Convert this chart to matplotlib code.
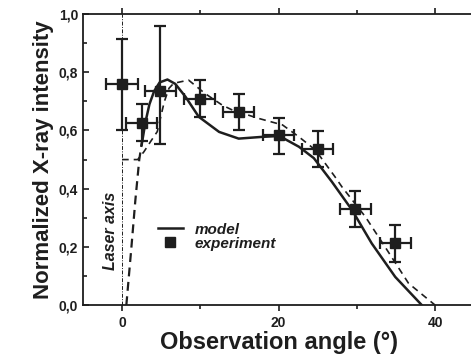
import numpy as np
import matplotlib
matplotlib.use('Agg')
import matplotlib.pyplot as plt
from matplotlib.lines import Line2D
from matplotlib.ticker import MultipleLocator, FuncFormatter

plt.rcParams['font.family'] = ['Liberation Sans', 'DejaVu Sans']

# experiment
exp_x = [0, 2.5, 4.9, 9.9, 14.9, 20.0, 25.0, 29.8, 34.9]
exp_y = [0.758, 0.627, 0.737, 0.709, 0.663, 0.583, 0.535, 0.331, 0.214]
exp_yerr_up = [0.156, 0.063, 0.223, 0.064, 0.061, 0.061, 0.063, 0.062, 0.061]
exp_yerr_dn = [0.157, 0.062, 0.185, 0.062, 0.062, 0.064, 0.060, 0.064, 0.065]
exp_xerr = [2, 2, 2, 2, 2, 2, 2, 2, 2]

# model (solid)
model_x = [2.5, 3.0, 3.5, 4.1, 4.8, 5.8, 6.8, 8.1, 9.8, 12.4, 14.9, 17.9, 20.1,
           22.6, 24.5, 26.8, 29.4, 31.9, 34.9, 38.3]
model_y = [0.55, 0.63, 0.69, 0.735, 0.765, 0.775, 0.76, 0.716, 0.647, 0.595, 0.572,
           0.578, 0.581, 0.544, 0.505, 0.424, 0.326, 0.212, 0.097, 0.0]

# steep dashed rise from the bottom
rise_x = [0.55, 1.2, 1.7, 2.2, 2.6]
rise_y = [0.0, 0.2, 0.36, 0.5, 0.57]

# second model (dashed)
dash_x = [0, 2.0, 2.8, 3.6, 4.5, 5.4, 6.0, 6.6, 8.5, 10.6, 12.8, 14.1, 17.5, 20.5,
          22.6, 24.7, 27.2, 28.1, 31.1, 33.6, 36.6, 40.0]
dash_y = [0.5, 0.5, 0.527, 0.56, 0.596, 0.699, 0.745, 0.762, 0.773, 0.727, 0.687,
          0.67, 0.641, 0.619, 0.578, 0.533, 0.441, 0.406, 0.303, 0.2, 0.075, 0.0]

c = '#1e1e1e'
fig = plt.figure(figsize=(4.71, 3.59), dpi=100)
ax = fig.add_axes([0.176, 0.150, 0.831, 0.811])

ax.plot([0, 0], [0, 1], color=c, lw=0.7, ls=(0, (4, 1.5, 1, 1.5)))
ax.plot(dash_x, dash_y, color=c, lw=1.2, ls=(0, (4, 3)))
ax.plot(rise_x, rise_y, color=c, lw=1.6, ls=(0, (4, 2.5)))
ax.plot(model_x, model_y, color=c, lw=1.8)
ax.errorbar(exp_x, exp_y, yerr=[exp_yerr_dn, exp_yerr_up], xerr=exp_xerr,
            fmt='s', color=c, ms=7.5, elinewidth=1.6, capsize=4, capthick=1.6)

ax.text(-1.5, 0.255, 'Laser axis', rotation=90, ha='center', va='center',
        fontsize=11.5, fontweight='bold', style='italic', color=c)

handles = [Line2D([], [], color=c, lw=1.8),
           Line2D([], [], color=c, marker='s', ls='none', ms=7.5)]
ax.legend(handles, ['model', 'experiment'], loc='upper left',
          bbox_to_anchor=(0.157, 0.33), frameon=False, handlelength=1.6,
          prop={'weight': 'bold', 'style': 'italic', 'size': 11},
          labelspacing=0.0, handletextpad=0.8, labelcolor=c)

ax.set_xlim(-5, 45)
ax.set_ylim(0, 1.0)
ax.xaxis.set_major_locator(MultipleLocator(20))
ax.xaxis.set_minor_locator(MultipleLocator(10))
ax.yaxis.set_major_locator(MultipleLocator(0.2))
ax.yaxis.set_minor_locator(MultipleLocator(0.1))
ax.yaxis.set_major_formatter(FuncFormatter(lambda v, p: ('%.1f' % v).replace('.', ',')))
ax.tick_params(which='both', direction='out', width=1.2, colors=c, labelsize=10)
ax.tick_params(which='major', length=4)
ax.tick_params(which='minor', length=3)
ax.tick_params(top=True, which='both', direction='in')
ax.tick_params(axis='x', which='both', direction='out', bottom=True)
ax.tick_params(axis='x', which='both', top=True)
for lab in ax.get_xticklabels() + ax.get_yticklabels():
    lab.set_fontweight('bold')
ax.spines['right'].set_visible(False)
for s in ['left', 'bottom', 'top']:
    ax.spines[s].set_linewidth(1.3)
    ax.spines[s].set_color(c)

ax.set_xlabel('Observation angle (°)', fontsize=17, fontweight='bold', color=c, labelpad=1)
ax.set_ylabel('Normalized X-ray intensity', fontsize=16, fontweight='bold', color=c, labelpad=3)

fig.savefig('out.png', dpi=100)
